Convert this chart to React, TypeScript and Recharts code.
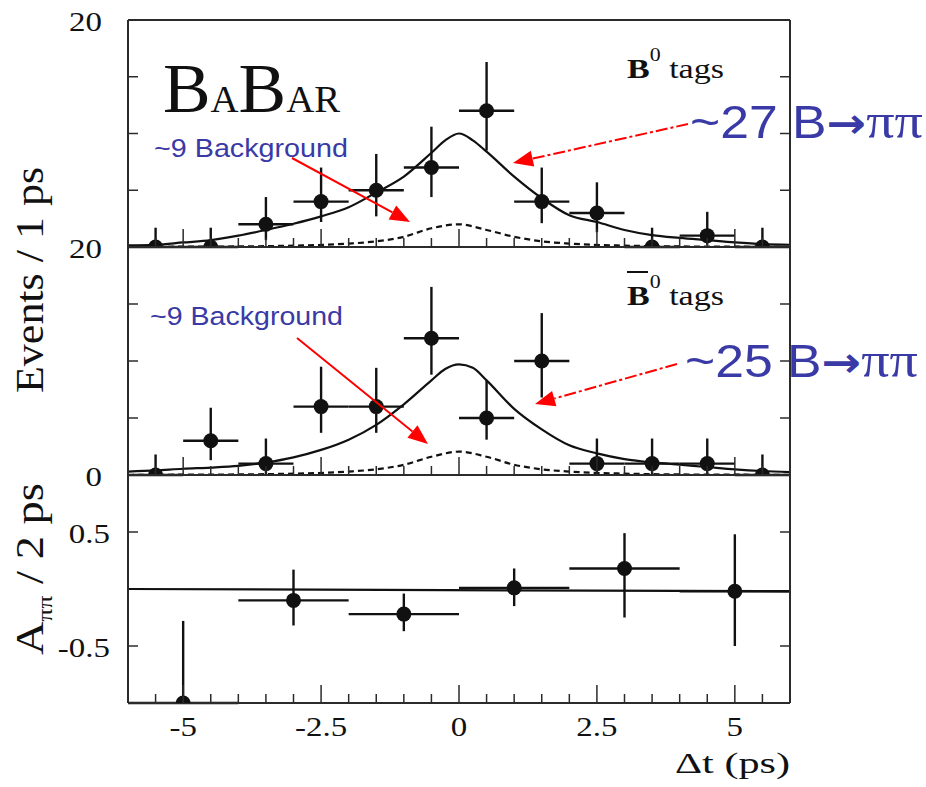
import { ComposedChart, Line, Scatter, ErrorBar, XAxis, YAxis } from 'recharts';

const W = 926;
const H = 787;
const PLOT_LEFT = 128;
const PLOT_RIGHT = 790;

const INK = '#111111';
const FRAME = '#2b2b2b';
const BLUE = '#3a3aa6';
const RED = '#ff0000';
const SERIF = '"Liberation Serif", "Times New Roman", serif';
const SANS = '"Liberation Sans", Arial, sans-serif';

// Δt tick marks (ps); labelled every 2.5
const xTicks = [-5.5, -5, -4.5, -4, -3.5, -3, -2.5, -2, -1.5, -1, -0.5, 0, 0.5, 1, 1.5, 2, 2.5, 3, 3.5, 4, 4.5, 5, 5.5];

// 1 ps bins for the two tagged samples
const binCenters = [-5.5, -4.5, -3.5, -2.5, -1.5, -0.5, 0.5, 1.5, 2.5, 3.5, 4.5, 5.5];

const b0Counts = [0, 0, 2, 4, 5, 7, 12, 4, 3, 0, 1, 0];
const b0ErrLow = [0, 0, 1.4, 1.8, 2.3, 2.6, 3.5, 1.9, 1.7, 0, 0.8, 0];
const b0ErrHigh = [1.7, 1.7, 2.4, 3.0, 3.2, 3.6, 4.3, 3.0, 2.7, 1.7, 2.1, 1.7];

const b0barCounts = [0, 3, 1, 6, 6, 12, 5, 10, 1, 1, 1, 0];
const b0barErrLow = [0, 1.7, 1.0, 2.3, 2.3, 3.2, 1.9, 3.2, 1.0, 1.0, 1.0, 0];
const b0barErrHigh = [1.8, 2.9, 2.2, 3.5, 3.4, 4.5, 3.3, 4.2, 2.2, 2.2, 2.2, 1.8];

// fit projections
const fitX = [-6, -5.5, -5, -4.5, -4, -3.5, -3, -2.5, -2, -1.5, -1, -0.5, -0.25, 0, 0.25, 0.5, 1, 1.5, 2, 2.5, 3, 3.5, 4, 4.5, 5, 5.5, 6];
const b0Fit = [0.15, 0.2, 0.4, 0.6, 1.0, 1.5, 2.05, 2.7, 3.5, 4.8, 6.2, 8.3, 9.4, 10.0, 9.4, 8.4, 6.2, 4.3, 2.8, 2.2, 1.5, 1.05, 0.8, 0.6, 0.4, 0.25, 0.2];
const b0barFit = [0.3, 0.4, 0.55, 0.65, 0.8, 1.1, 1.55, 2.2, 3.1, 4.4, 6.2, 8.3, 9.3, 9.7, 9.4, 8.3, 5.8, 4.0, 2.6, 1.9, 1.4, 1.1, 0.9, 0.7, 0.5, 0.35, 0.25];

const bkgX = [-6, -5, -4, -3, -2, -1.5, -1, -0.5, 0, 0.5, 1, 1.5, 2, 3, 4, 5, 6];
const b0Bkg = [0, 0.03, 0.05, 0.12, 0.3, 0.5, 0.9, 1.65, 2.0, 1.5, 0.9, 0.5, 0.3, 0.12, 0.05, 0.03, 0];
const b0barBkg = [0, 0.03, 0.05, 0.12, 0.3, 0.5, 0.9, 1.6, 2.05, 1.6, 0.9, 0.5, 0.3, 0.12, 0.05, 0.03, 0];

// asymmetry in 2 ps bins
const asymCenters = [-5, -3, -1, 1, 3, 5];
const asymValues = [-1, -0.1, -0.22, 0.01, 0.18, -0.02];
const asymErrLow = [0, 0.22, 0.15, 0.16, 0.43, 0.48];
const asymErrHigh = [0.72, 0.27, 0.18, 0.17, 0.31, 0.5];
const asymFitX = [-6, 6];
const asymFit = [0, -0.02];

type Pt = { x: number; y: number; ex?: number; ey?: [number, number] };

const toPoints = (xs: number[], ys: number[], lo: number[], hi: number[], half: number): Pt[] =>
  xs.map((x, i) => ({ x, y: ys[i], ex: half, ey: [lo[i], hi[i]] }));

const toCurve = (xs: number[], ys: number[]): Pt[] => xs.map((x, i) => ({ x, y: ys[i] }));

const isMajor = (v: number) => Math.abs(v / 2.5 - Math.round(v / 2.5)) < 1e-6;

function SerifLabel({ x, y, text, anchor }: { x: number; y: number; text: string; anchor: 'start' | 'middle' | 'end' }) {
  return (
    <text
      transform={`translate(${x},${y}) scale(1.22,1)`}
      textAnchor={anchor}
      fontFamily={SERIF}
      fontSize={27}
      fill={INK}
    >
      {text}
    </text>
  );
}

const axisStyle = { stroke: FRAME, strokeWidth: 2 };

type PanelProps = {
  top: number;
  bottom: number;
  domain: [number, number];
  yTicks: number[];
  yLabels: number[];
  labelGap: number;
  showXLabels?: boolean;
  points: Pt[];
  fit: Pt[];
  bkg?: Pt[];
};

function Panel({ top, bottom, domain, yTicks, yLabels, labelGap, showXLabels, points, fit, bkg }: PanelProps) {
  const bottomTick = (p: any) => {
    const v = p.payload.value;
    const len = isMajor(v) ? 18 : 9;
    return (
      <g>
        <line x1={p.x} y1={p.y} x2={p.x} y2={p.y - len} stroke={FRAME} strokeWidth={1.5} />
        {showXLabels && isMajor(v) && <SerifLabel x={p.x} y={p.y + 33} text={String(v)} anchor="middle" />}
      </g>
    );
  };
  const topTick = (p: any) => {
    const len = isMajor(p.payload.value) ? 18 : 9;
    return <line x1={p.x} y1={p.y} x2={p.x} y2={p.y + len} stroke={FRAME} strokeWidth={1.5} />;
  };
  const leftTick = (p: any) => {
    const v = p.payload.value;
    return (
      <g>
        <line x1={p.x} y1={p.y} x2={p.x + 10} y2={p.y} stroke={FRAME} strokeWidth={1.5} />
        {yLabels.includes(v) && <SerifLabel x={p.x - labelGap} y={p.y + 11} text={String(v)} anchor="end" />}
      </g>
    );
  };
  const rightTick = (p: any) => (
    <line x1={p.x} y1={p.y} x2={p.x - 10} y2={p.y} stroke={FRAME} strokeWidth={1.5} />
  );

  // each axis takes one pixel, so the margins leave room for it
  return (
    <div style={{ position: 'absolute', left: 0, top: 0 }}>
      <ComposedChart
        width={W}
        height={H}
        margin={{ top: top - 1, bottom: H - bottom - 1, left: PLOT_LEFT - 1, right: W - PLOT_RIGHT - 1 }}
      >
        <XAxis
          xAxisId="b"
          dataKey="x"
          type="number"
          domain={[-6, 6]}
          ticks={xTicks}
          interval={0}
          height={1}
          tickSize={0}
          tickMargin={0}
          tickLine={false}
          axisLine={axisStyle}
          tick={bottomTick}
          allowDataOverflow
        />
        <XAxis
          xAxisId="t"
          orientation="top"
          type="number"
          domain={[-6, 6]}
          ticks={xTicks}
          interval={0}
          height={1}
          tickSize={0}
          tickMargin={0}
          tickLine={false}
          axisLine={axisStyle}
          tick={topTick}
          allowDataOverflow
        />
        <YAxis
          yAxisId="l"
          dataKey="y"
          type="number"
          domain={domain}
          ticks={yTicks}
          interval={0}
          width={1}
          tickSize={0}
          tickMargin={0}
          tickLine={false}
          axisLine={axisStyle}
          tick={leftTick}
          allowDataOverflow
        />
        <YAxis
          yAxisId="r"
          orientation="right"
          type="number"
          domain={domain}
          ticks={yTicks}
          interval={0}
          width={1}
          tickSize={0}
          tickMargin={0}
          tickLine={false}
          axisLine={axisStyle}
          tick={rightTick}
          allowDataOverflow
        />
        {bkg && (
          <Line
            xAxisId="b"
            yAxisId="l"
            data={bkg}
            dataKey="y"
            type="monotone"
            stroke={INK}
            strokeWidth={2.2}
            strokeDasharray="6 4"
            dot={false}
            activeDot={false}
            isAnimationActive={false}
          />
        )}
        <Line
          xAxisId="b"
          yAxisId="l"
          data={fit}
          dataKey="y"
          type="monotone"
          stroke={INK}
          strokeWidth={2.2}
          dot={false}
          activeDot={false}
          isAnimationActive={false}
        />
        <Scatter
          xAxisId="b"
          yAxisId="l"
          data={points}
          dataKey="y"
          isAnimationActive={false}
          shape={(p: any) => <circle cx={p.cx} cy={p.cy} r={7.5} fill={INK} />}
        >
          <ErrorBar dataKey="ex" direction="x" width={0} stroke={INK} strokeWidth={2.4} />
          <ErrorBar dataKey="ey" direction="y" width={0} stroke={INK} strokeWidth={2.4} />
        </Scatter>
      </ComposedChart>
    </div>
  );
}

function Arrow({ x1, y1, x2, y2, dash }: { x1: number; y1: number; x2: number; y2: number; dash?: string }) {
  const a = Math.atan2(y2 - y1, x2 - x1);
  const len = 20;
  const half = 8;
  const bx = x2 - len * Math.cos(a);
  const by = y2 - len * Math.sin(a);
  const pts = [
    `${x2},${y2}`,
    `${bx + half * Math.sin(a)},${by - half * Math.cos(a)}`,
    `${bx - half * Math.sin(a)},${by + half * Math.cos(a)}`,
  ].join(' ');
  return (
    <g>
      <line x1={x1} y1={y1} x2={bx} y2={by} stroke={RED} strokeWidth={2} strokeDasharray={dash} />
      <polygon points={pts} fill={RED} />
    </g>
  );
}

function Yield({ x, y, n }: { x: number; y: number; n: number }) {
  return (
    <text x={x} y={y} fontFamily={SANS} fontSize={46} fill={BLUE} textLength={233} lengthAdjust="spacingAndGlyphs">
      ~{n} B
      <tspan fontFamily='"DejaVu Sans", sans-serif' fontWeight="bold" fontSize={42}>→</tspan>
      <tspan fontFamily={SERIF} fontSize={50}>ππ</tspan>
    </text>
  );
}

function TagLabel({ y }: { y: number }) {
  return (
    <text x={627} y={y} fontFamily={SERIF} fontSize={28} fill={INK} textLength={97} lengthAdjust="spacingAndGlyphs">
      <tspan fontWeight="bold">B</tspan>
      <tspan fontSize={18} dy={-17}>0</tspan>
      <tspan dy={17}> tags</tspan>
    </text>
  );
}

function Annotations() {
  return (
    <svg width={W} height={H} style={{ position: 'absolute', left: 0, top: 0, pointerEvents: 'none' }}>
      {/* experiment logo */}
      <text x={163} y={112} fontFamily={SERIF} fill={INK} textLength={177} lengthAdjust="spacingAndGlyphs">
        <tspan fontSize={70}>B</tspan>
        <tspan fontSize={38}>A</tspan>
        <tspan fontSize={70}>B</tspan>
        <tspan fontSize={38}>AR</tspan>
      </text>

      {/* sample labels */}
      <TagLabel y={78} />
      <line x1={627} y1={272} x2={648} y2={272} stroke={INK} strokeWidth={2} />
      <TagLabel y={305} />

      {/* yields */}
      <text x={154} y={157} fontFamily={SANS} fontSize={25} fill={BLUE} textLength={194} lengthAdjust="spacingAndGlyphs">
        ~9 Background
      </text>
      <text x={150} y={325} fontFamily={SANS} fontSize={25} fill={BLUE} textLength={193} lengthAdjust="spacingAndGlyphs">
        ~9 Background
      </text>
      <Yield x={690} y={138} n={27} />
      <Yield x={685} y={377} n={25} />

      <Arrow x1={292} y1={158} x2={410} y2={222} />
      <Arrow x1={688} y1={124} x2={513} y2={163} dash="12 3 3 3" />
      <Arrow x1={297} y1={338} x2={428} y2={444} />
      <Arrow x1={677} y1={364} x2={535} y2={404} dash="12 3 3 3" />

      {/* axis titles */}
      <text
        transform="translate(43,393) rotate(-90)"
        fontFamily={SERIF}
        fontSize={40}
        fill={INK}
        textLength={226}
        lengthAdjust="spacingAndGlyphs"
      >
        Events / 1 ps
      </text>
      <text
        transform="translate(43,655) rotate(-90)"
        fontFamily={SERIF}
        fontSize={40}
        fill={INK}
        textLength={172}
        lengthAdjust="spacingAndGlyphs"
      >
        A<tspan fontSize={22} dy={9}>ππ</tspan>
        <tspan dy={-9}> / 2 ps</tspan>
      </text>
      <text x={675} y={773} fontFamily={SERIF} fontSize={30} fill={INK} textLength={115} lengthAdjust="spacingAndGlyphs">
        Δt (ps)
      </text>
    </svg>
  );
}

export default function App() {
  return (
    <div style={{ position: 'absolute', left: 0, top: 0, width: W, height: H, background: '#fff' }}>
      <Panel
        top={20}
        bottom={247}
        domain={[0, 20]}
        yTicks={[5, 10, 15, 20]}
        yLabels={[20]}
        labelGap={26}
        points={toPoints(binCenters, b0Counts, b0ErrLow, b0ErrHigh, 0.5)}
        fit={toCurve(fitX, b0Fit)}
        bkg={toCurve(bkgX, b0Bkg)}
      />
      <Panel
        top={247}
        bottom={475}
        domain={[0, 20]}
        yTicks={[0, 5, 10, 15, 20]}
        yLabels={[0, 20]}
        labelGap={26}
        points={toPoints(binCenters, b0barCounts, b0barErrLow, b0barErrHigh, 0.5)}
        fit={toCurve(fitX, b0barFit)}
        bkg={toCurve(bkgX, b0barBkg)}
      />
      <Panel
        top={475}
        bottom={703}
        domain={[-1, 1]}
        yTicks={[-0.5, 0.5]}
        yLabels={[-0.5, 0.5]}
        labelGap={18}
        showXLabels
        points={toPoints(asymCenters, asymValues, asymErrLow, asymErrHigh, 1)}
        fit={toCurve(asymFitX, asymFit)}
      />
      <Annotations />
    </div>
  );
}
